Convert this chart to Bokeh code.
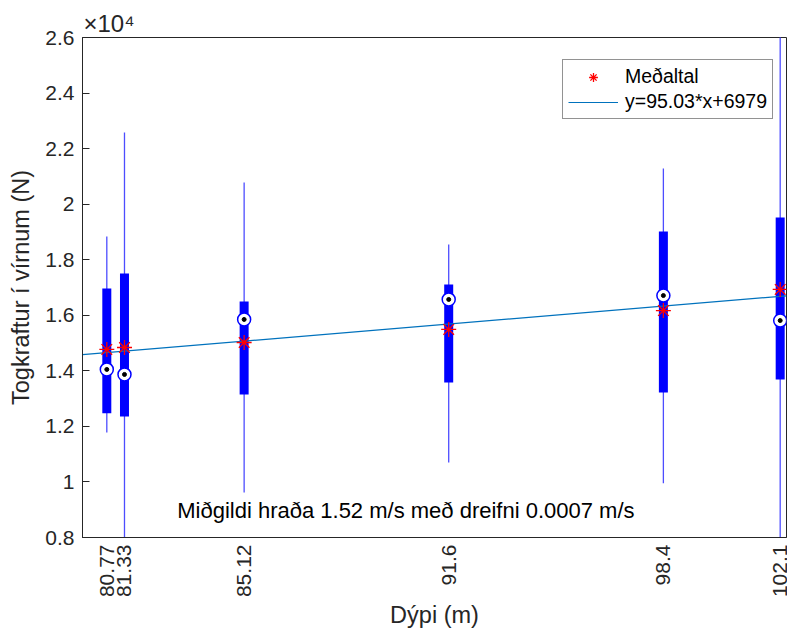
import math
from bokeh.plotting import figure
from bokeh.models import (FixedTicker, Label, Legend, LegendItem, Range1d, Title)
from bokeh.embed import file_html
from bokeh.resources import INLINE

# ---- data (values in N) ----
depths = [80.77, 81.33, 85.12, 91.6, 98.4, 102.1]
depth_labels = ["80.77", "81.33", "85.12", "91.6", "98.4", "102.1"]
whisker_lo = [11780, 7000, 9620, 10700, 9950, 7000]
box_lo = [12470, 12360, 13150, 13580, 13220, 13690]
medians = [14050, 13870, 15850, 16570, 16710, 15810]
box_hi = [16960, 17500, 16500, 17110, 19020, 19520]
whisker_hi = [18840, 22580, 20780, 18550, 21280, 27500]
means = [14770, 14840, 15020, 15490, 16170, 16930]

slope = 95.03
intercept = 6979

y_ticks = [8000, 10000, 12000, 14000, 16000, 18000, 20000, 22000, 24000, 26000]
y_tick_labels = ["0.8", "1", "1.2", "1.4", "1.6", "1.8", "2", "2.2", "2.4", "2.6"]

x_start, x_end = 80.0, 102.3
y_start, y_end = 8000, 26000

annotation = "Miðgildi hraða 1.52 m/s með dreifni 0.0007 m/s"
exponent_text = "×10⁴"

FONT = "Liberation Sans"
AX = "#262626"

p = figure(width=787, height=633, output_backend="svg", toolbar_location=None,
           x_range=Range1d(x_start, x_end), y_range=Range1d(y_start, y_end),
           min_border_left=82, min_border_right=1, min_border_top=37, min_border_bottom=96)

p.background_fill_color = "white"
p.border_fill_color = "white"
p.outline_line_color = AX
p.outline_line_width = 1
p.xgrid.visible = False
p.ygrid.visible = False

# exponent title
p.add_layout(Title(text=exponent_text, align="left", offset=1, standoff=2,
                   text_font=FONT, text_font_size="24px", text_color=AX,
                   text_font_style="normal"), "above")

# axes
p.xaxis.ticker = FixedTicker(ticks=depths)
p.xaxis.major_label_overrides = {d: l for d, l in zip(depths, depth_labels)}
p.xaxis.major_label_orientation = math.pi / 2
p.yaxis.ticker = FixedTicker(ticks=y_ticks)
p.yaxis.major_label_overrides = {t: l for t, l in zip(y_ticks, y_tick_labels)}

for ax in (p.xaxis[0], p.yaxis[0]):
    ax.axis_line_color = AX
    ax.major_tick_line_color = AX
    ax.minor_tick_line_color = None
    ax.major_label_text_font = FONT
    ax.major_label_text_font_size = "21px"
    ax.major_label_text_color = AX
    ax.axis_label_text_font = FONT
    ax.axis_label_text_font_size = "23.5px"
    ax.axis_label_text_font_style = "normal"
    ax.axis_label_text_color = AX
p.xaxis.major_tick_in = 0
p.xaxis.major_tick_out = 0
p.yaxis.major_tick_in = 7
p.yaxis.major_tick_out = 0
p.xaxis.major_label_standoff = 7
p.yaxis.major_label_standoff = 8
p.xaxis.axis_label = "Dýpi (m)"
p.yaxis.axis_label = "Togkraftur í vírnum (N)"
p.xaxis.axis_label_standoff = 2
p.yaxis.axis_label_standoff = 8

# boxplots (compact style)
p.segment(x0=depths, y0=whisker_lo, x1=depths, y1=whisker_hi,
          line_color="#4d4dff", line_width=1.3)
p.segment(x0=depths, y0=box_lo, x1=depths, y1=box_hi,
          line_color="#0000ff", line_width=9, line_cap="butt")
p.scatter(x=depths, y=medians, marker="circle", size=13,
          fill_color="white", line_color="#0000ff", line_width=1.5)
p.scatter(x=depths, y=medians, marker="circle", size=4,
          fill_color="black", line_color="black")

# regression line
line_x = [x_start, x_end]
line_y = [slope * x + intercept for x in line_x]
lr = p.line(x=line_x, y=line_y, line_color="#0072BD", line_width=1.2)

# means
mr = p.scatter(x=depths, y=means, marker="asterisk", size=15,
               line_color="#ff0000", line_width=1.3)

p.add_layout(Label(x=83.0, y=8970, text=annotation, text_font=FONT,
                   text_font_size="22px", text_color="black",
                   text_baseline="middle", text_align="left"))

legend = Legend(items=[LegendItem(label="Meðaltal", renderers=[mr]),
                       LegendItem(label=f"y={slope}*x+{intercept}", renderers=[lr])],
                location=(480, 418))
legend.label_text_font = FONT
legend.label_text_font_size = "19.5px"
legend.label_text_color = "black"
legend.border_line_color = AX
legend.border_line_width = 1
legend.background_fill_color = "white"
legend.glyph_width = 50
legend.glyph_height = 22
legend.label_standoff = 7
legend.padding = 5
legend.spacing = 2
legend.margin = 0
p.add_layout(legend, "center")

open("out.html", "w").write(file_html(p, INLINE))
